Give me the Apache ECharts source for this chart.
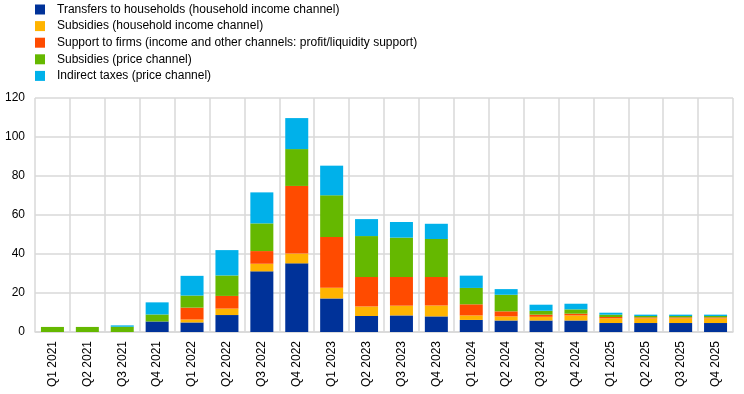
<!DOCTYPE html>
<html><head><meta charset="utf-8">
<script src="https://cdn.jsdelivr.net/npm/echarts@6/dist/echarts.min.js"></script>
<style>html,body{margin:0;padding:0;background:#fff}#c{width:744px;height:394px}</style>
</head><body><div id="c"></div>
<script>
const categories = ["Q1 2021","Q2 2021","Q3 2021","Q4 2021","Q1 2022","Q2 2022","Q3 2022","Q4 2022","Q1 2023","Q2 2023","Q3 2023","Q4 2023","Q1 2024","Q2 2024","Q3 2024","Q4 2024","Q1 2025","Q2 2025","Q3 2025","Q4 2025"];
const seriesNames = ["Transfers to households (household income channel)","Subsidies (household income channel)","Support to firms (income and other channels: profit/liquidity support)","Subsidies (price channel)","Indirect taxes (price channel)"];
const transfersHH = [0,0,0,5.4,4.9,8.7,31.1,35.2,17.2,8.2,8.5,8.0,6.2,5.9,5.9,5.9,4.6,4.6,4.6,4.6];
const subsidiesHH = [0,0,0,0,1.5,3.3,3.9,5.0,5.5,4.9,5.0,5.6,2.3,2.1,1.9,2.6,2.4,2.4,2.4,2.4];
const supportFirms = [0,0,0,0,6.1,6.5,6.5,34.7,26.0,15.1,14.7,14.6,5.7,2.6,1.1,0.9,0.7,0.5,0.5,0.5];
const subsidiesPrice = [2.6,2.6,2.7,3.6,6.2,10.5,14.2,18.9,21.4,21.0,20.2,19.5,8.4,8.5,2.0,2.2,1.2,0.7,0.7,0.7];
const indirectTaxes = [0,0,0.7,6.2,10.1,13.0,15.9,15.9,15.2,8.7,8.0,7.8,6.3,2.9,3.1,2.9,1.0,0.7,0.7,0.7];
const yTicks = [0,20,40,60,80,100,120];
const colors = ["#003299","#FFB400","#FF4B00","#65B800","#00B1EA"];
const values = [transfersHH, subsidiesHH, supportFirms, subsidiesPrice, indirectTaxes];
const font = "'Liberation Sans', Arial, sans-serif";
const chart = echarts.init(document.getElementById('c'), null, {renderer:'canvas'});
chart.setOption({
  animation:false,
  color: colors,
  legend:{
    orient:'vertical', left:35, top:3.5, padding:0, itemWidth:10, itemHeight:10, itemGap:4.6,
    icon:'rect',
    textStyle:{fontFamily:font, fontSize:12, color:'#000', padding:[0,0,0,7], lineHeight:12},
    data: seriesNames
  },
  grid:{left:35, right:11, top:98, bottom:62, containLabel:false},
  xAxis:{
    type:'category', data:categories, boundaryGap:true,
    axisLine:{show:true, lineStyle:{color:'#d9d9d9', width:1.5}},
    axisTick:{show:false},
    splitLine:{show:true, lineStyle:{color:'#d9d9d9', width:1.5}},
    axisLabel:{rotate:90, margin:9, fontFamily:font, fontSize:12, color:'#000', interval:0}
  },
  yAxis:{
    type:'value', min:0, max:120, interval:20,
    axisLine:{show:false}, axisTick:{show:false},
    splitLine:{show:true, lineStyle:{color:'#d9d9d9', width:1.5}},
    axisLabel:{fontFamily:font, fontSize:12, color:'#000', margin:10,
      formatter: v => yTicks.includes(v) ? String(v) : ''}
  },
  series: seriesNames.map((n,i)=>({
    name:n, type:'bar', stack:'total', data:values[i], barWidth:23,
    itemStyle:{color:colors[i]}
  }))
});
</script></body></html>
